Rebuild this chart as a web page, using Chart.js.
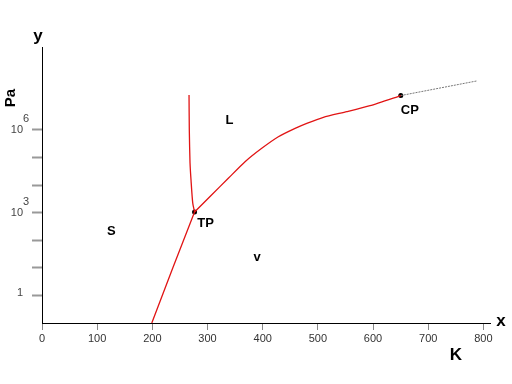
<!DOCTYPE html>
<html><head><meta charset="utf-8">
<script src="https://cdn.jsdelivr.net/npm/chart.js@4"></script>
<style>html,body{margin:0;padding:0;background:#fff}#c{display:block}</style>
</head><body>
<canvas id="c" width="512" height="384"></canvas>
<script>
// ---- data (temperature K, pressure Pa) ----
const sublimationK  = [199, 237, 276.5];
const sublimationPa = [0.1, 9.8, 1050];
const meltingK  = [276.5, 273.2, 270.1, 268.3, 267.0, 266.5];
const meltingPa = [1050, 2240, 15100, 63100, 977000, 1.82e7];
const vaporK  = [276.5, 306.4, 337.7, 368.0, 398.3, 428.4, 458.7, 479.9, 510.0, 552.4, 594.6, 650.3];
const vaporPa = [1050, 4170, 17500, 69800, 214000, 562000, 1.13e6, 1.72e6, 2.84e6, 4.53e6, 7.46e6, 1.74e7];
const supercriticalK  = [650.3, 788.1];
const supercriticalPa = [1.74e7, 5.89e7];
const specialNames = ['TP', 'CP'];
const specialK  = [276.5, 650.3];
const specialPa = [1050, 1.74e7];
const regionNames = ['S', 'L', 'v'];
const xTickValues = [0, 100, 200, 300, 400, 500, 600, 700, 800];
const yTickValues = [1, 10, 100, 1e3, 1e4, 1e5, 1e6];
const yTickBase = ['1', '', '', '10', '', '', '10'];
const yTickSup  = ['', '', '', '3', '', '', '6'];

const pts = (xs, ys) => xs.map((x, i) => ({x, y: ys[i]}));
const FONT = "'Liberation Sans', Arial, Helvetica, sans-serif";
const RED = 'rgb(225,20,20)';

// label placement (data coordinates) for phase regions
const regionPos = [[125.6, 221], [339.6, 2.4e6], [389.8, 24.5]];

const textPlugin = {
  id: 'texts',
  afterDraw(chart) {
    const ctx = chart.ctx, xs = chart.scales.x, ys = chart.scales.y;
    ctx.save();
    // y tick labels with superscripts
    ctx.fillStyle = '#444';
    ctx.font = '11px ' + FONT;
    ctx.textBaseline = 'middle';
    yTickValues.forEach((v, i) => {
      const py = ys.getPixelForValue(v);
      if (yTickBase[i]) { ctx.textAlign = 'right'; ctx.fillText(yTickBase[i], 23, py - (yTickSup[i] ? 0 : 2)); }
      if (yTickSup[i]) { ctx.textAlign = 'left'; ctx.fillText(yTickSup[i], 23, py - 11); }
    });
    // axis titles
    ctx.fillStyle = '#000';
    ctx.textAlign = 'center';
    ctx.textBaseline = 'middle';
    ctx.font = 'bold 17px ' + FONT;
    ctx.fillText('y', 38, 36);
    ctx.fillText('x', 501, 321);
    ctx.fillText('K', 456, 355);
    ctx.save();
    ctx.translate(11, 98);
    ctx.rotate(-Math.PI / 2);
    ctx.font = 'bold 15px ' + FONT;
    ctx.fillText('Pa', 0, 0);
    ctx.restore();
    // region labels
    ctx.font = 'bold 13px ' + FONT;
    ctx.textBaseline = 'alphabetic';
    regionNames.forEach((n, i) => {
      const px = xs.getPixelForValue(regionPos[i][0]);
      const py = ys.getPixelForValue(regionPos[i][1]);
      ctx.fillText(n, px, py + (n === 'v' ? 3.5 : 4.7));
    });
    // special point labels
    const offs = [[11, 10], [9, 14]];
    specialNames.forEach((n, i) => {
      const px = xs.getPixelForValue(specialK[i]);
      const py = ys.getPixelForValue(specialPa[i]);
      ctx.fillText(n, px + offs[i][0], py + offs[i][1] + 4.7);
    });
    ctx.restore();
  }
};

const lineDs = (data, color, extra) => Object.assign({
  data, showLine: true, borderColor: color, borderWidth: 1.3,
  pointRadius: 0, tension: 0.2, fill: false, clip: false
}, extra || {});

new Chart(document.getElementById('c'), {
  type: 'scatter',
  data: {
    datasets: [
      lineDs(pts(sublimationK, sublimationPa), RED, {tension: 0}),
      lineDs(pts(meltingK, meltingPa), RED, {tension: 0.25}),
      lineDs(pts(vaporK, vaporPa), RED),
      lineDs(pts(supercriticalK, supercriticalPa), '#777', {borderWidth: 1, borderDash: [2, 1], tension: 0}),
      {data: pts(specialK, specialPa), showLine: false, pointRadius: 2.5,
       pointBackgroundColor: '#000', pointBorderColor: '#000', pointBorderWidth: 0, clip: false}
    ]
  },
  options: {
    responsive: false, animation: false, devicePixelRatio: 1,
    layout: {padding: {top: 47, right: 22, left: 0, bottom: 0}},
    plugins: {legend: {display: false}, tooltip: {enabled: false}},
    scales: {
      x: {
        type: 'linear', position: 'bottom', min: 0, max: 812,
        afterBuildTicks: s => { s.ticks = xTickValues.map(v => ({value: v})); },
        afterFit: s => { s.height = 61; },
        ticks: {color: '#333', font: {family: FONT, size: 11}, padding: 2, maxRotation: 0, autoSkip: false,
                callback: v => String(v)},
        grid: {drawOnChartArea: false, drawTicks: true, tickLength: 7, tickColor: '#888', tickWidth: 1},
        border: {color: '#000', width: 1}
      },
      y: {
        type: 'logarithmic', position: 'left', min: 0.1, max: 1e9,
        afterBuildTicks: s => { s.ticks = yTickValues.map(v => ({value: v})); },
        afterFit: s => { s.width = 42; },
        ticks: {display: false},
        grid: {drawOnChartArea: false, drawTicks: true, tickLength: 10, tickColor: '#999', tickWidth: 2},
        border: {color: '#000', width: 1}
      }
    }
  },
  plugins: [textPlugin]
});
</script>
</body></html>
